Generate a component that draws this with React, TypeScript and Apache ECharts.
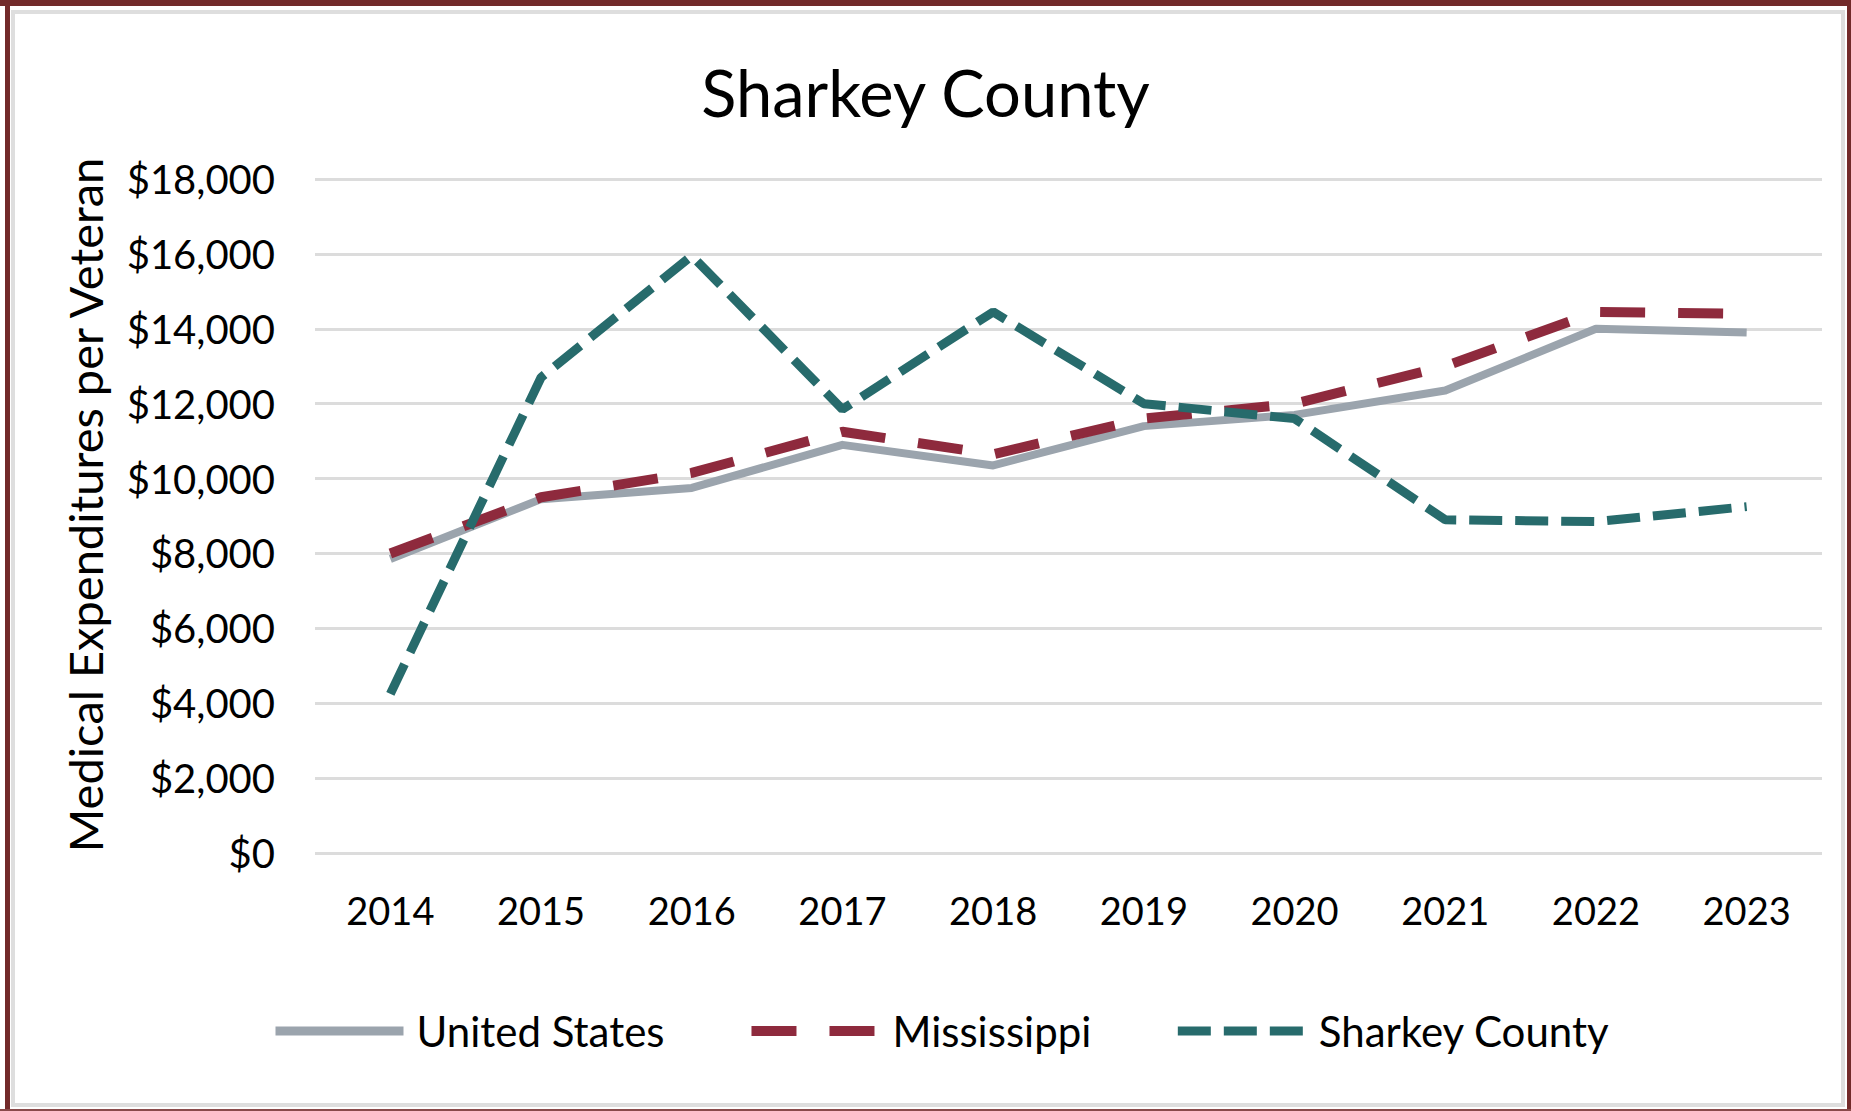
import React, { useEffect, useRef } from "react";
import * as echarts from "echarts";

const years = ["2014", "2015", "2016", "2017", "2018", "2019", "2020", "2021", "2022", "2023"];
const unitedStates = [7850, 9450, 9750, 10900, 10350, 11400, 11700, 12350, 14000, 13900];
const mississippi = [8000, 9500, 10150, 11250, 10650, 11600, 12000, 13000, 14450, 14400];
const sharkeyCounty = [4250, 12700, 15950, 11850, 14450, 12000, 11600, 8900, 8850, 9250];
const seriesNames = ["United States", "Mississippi", "Sharkey County"];
const titleText = "Sharkey County";
const yAxisTitle = "Medical Expenditures per Veteran";

const FONT = "Lato, 'Noto Sans', sans-serif";
const US_COLOR = "#9ba4ad";
const MS_COLOR = "#8e2a3d";
const SC_COLOR = "#276b6c";
const MS_DASH = [45, 33];
const SC_DASH = [33, 13];

export default function App() {
  const ref = useRef<HTMLDivElement>(null);
  useEffect(() => {
    if (!ref.current) return;
    const chart = echarts.init(ref.current, undefined, { renderer: "svg" });
    chart.setOption({
      animation: false,
      backgroundColor: "#ffffff",
      textStyle: { fontFamily: FONT },
      graphic: [
        { type: "rect", z: -10, silent: true, shape: { x: 0, y: 0, width: 1851, height: 6 }, style: { fill: "#722a2a" } },
        { type: "rect", z: -10, silent: true, shape: { x: 5, y: 0, width: 5, height: 1111 }, style: { fill: "#722a2a" } },
        { type: "rect", z: -10, silent: true, shape: { x: 1847, y: 0, width: 4, height: 1111 }, style: { fill: "#722a2a" } },
        { type: "rect", z: -10, silent: true, shape: { x: 0, y: 1109, width: 1851, height: 2 }, style: { fill: "#8a4a4a" } },
        { type: "rect", z: -10, silent: true, shape: { x: 13, y: 12, width: 1830, height: 1093 }, style: { fill: "none", stroke: "#dedede", lineWidth: 4 } },
      ],
      title: {
        text: titleText,
        left: "center",
        top: 54,
        textStyle: { fontFamily: FONT, fontSize: 65, fontWeight: "normal", color: "#000" },
      },
      legend: {
        data: [
          { name: seriesNames[0], itemStyle: { opacity: 0 }, lineStyle: { color: US_COLOR, width: 9, type: "solid" } },
          { name: seriesNames[1], itemStyle: { opacity: 0 }, lineStyle: { color: MS_COLOR, width: 10, type: MS_DASH } },
          { name: seriesNames[2], itemStyle: { opacity: 0 }, lineStyle: { color: SC_COLOR, width: 9, type: SC_DASH } },
        ],
        left: 266,
        top: 1005,
        itemWidth: 128,
        itemHeight: 14,
        itemGap: 82,
        textStyle: { fontFamily: FONT, fontSize: 42, color: "#000", padding: [0, 0, 0, 8] },
      },
      grid: { left: 315, right: 29, top: 179, bottom: 258, containLabel: false },
      xAxis: {
        type: "category",
        data: years,
        boundaryGap: true,
        axisLine: { show: false },
        axisTick: { show: false },
        axisLabel: { fontFamily: FONT, fontSize: 38, color: "#000", margin: 38 },
      },
      yAxis: {
        type: "value",
        min: 0,
        max: 18000,
        interval: 2000,
        name: yAxisTitle,
        nameLocation: "middle",
        nameGap: 207,
        nameTextStyle: { fontFamily: FONT, fontSize: 47, color: "#000", padding: [0, 0, 0, 22] },
        axisLine: { show: false },
        axisTick: { show: false },
        splitLine: { lineStyle: { color: "#dcdcdc", width: 3 } },
        axisLabel: {
          fontFamily: FONT,
          fontSize: 40,
          color: "#000",
          margin: 40,
          formatter: (v: number) => "$" + v.toLocaleString("en-US"),
        },
      },
      series: [
        {
          name: seriesNames[0],
          type: "line",
          data: unitedStates,
          symbol: "none",
          itemStyle: { color: US_COLOR },
          lineStyle: { color: US_COLOR, width: 8, join: "round" },
        },
        {
          name: seriesNames[1],
          type: "line",
          data: mississippi,
          symbol: "none",
          itemStyle: { color: MS_COLOR },
          lineStyle: { color: MS_COLOR, width: 10, type: MS_DASH },
        },
        {
          name: seriesNames[2],
          type: "line",
          data: sharkeyCounty,
          symbol: "none",
          itemStyle: { color: SC_COLOR },
          lineStyle: { color: SC_COLOR, width: 9, type: SC_DASH },
        },
      ],
    });
    return () => chart.dispose();
  }, []);
  return (
    <div
      ref={ref}
      style={{ position: "absolute", left: 0, top: 0, width: 1851, height: 1111 }}
    />
  );
}
